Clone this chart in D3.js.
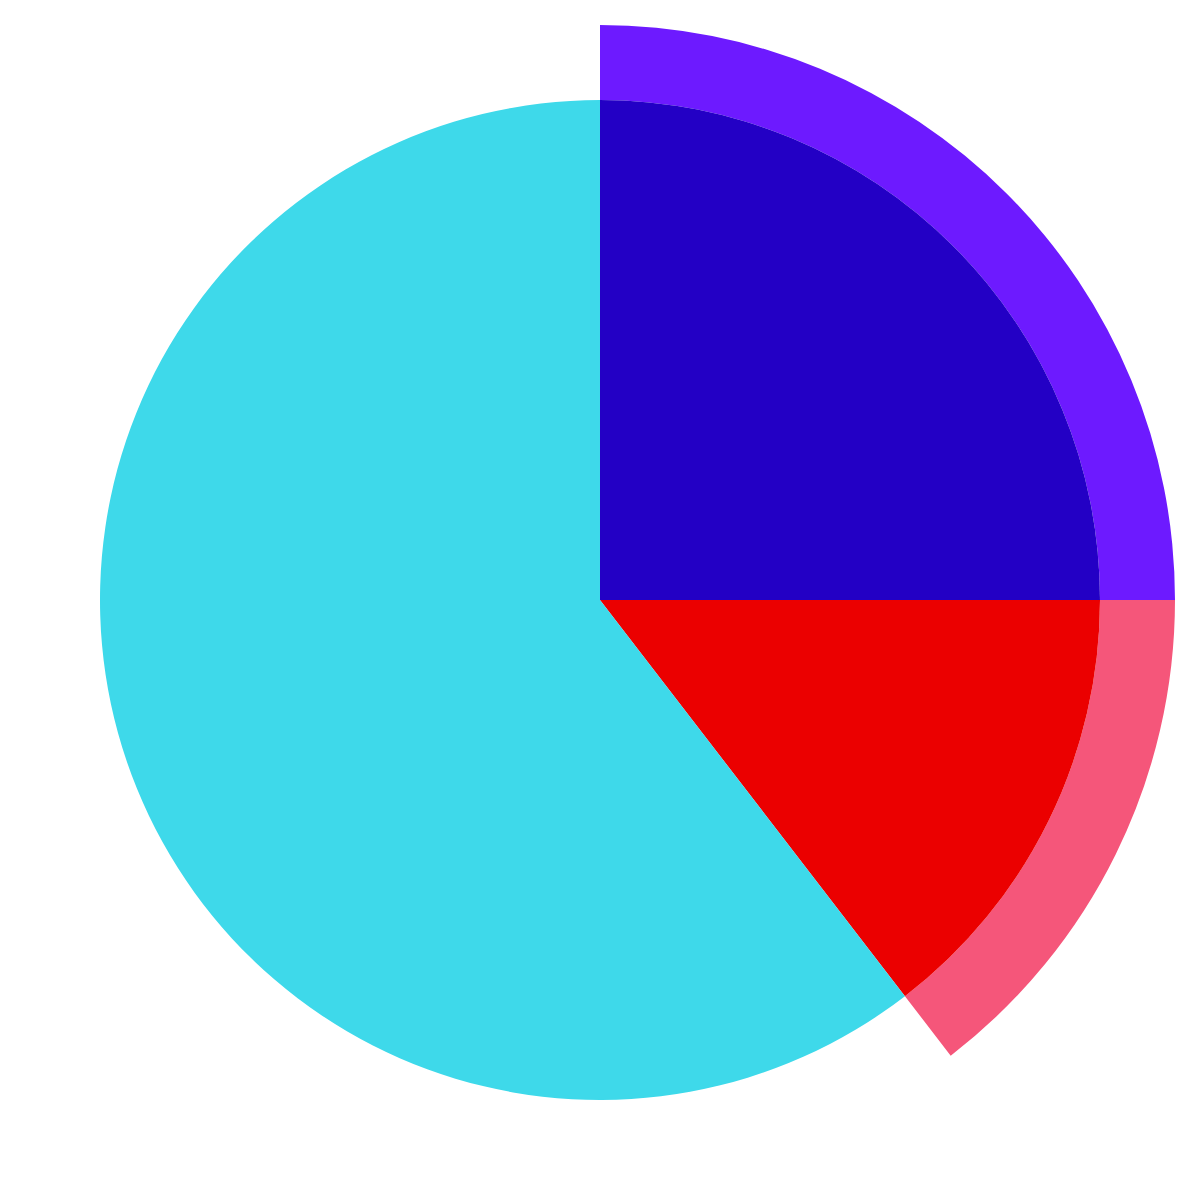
<!DOCTYPE html>
<html><head><meta charset="utf-8">
<script src="https://cdn.jsdelivr.net/npm/d3@7"></script>
<style>html,body{margin:0;padding:0;background:#fff;}</style>
</head><body>
<svg id="chart" width="1200" height="1200"></svg>
<script>
const categories = ["A", "B", "C"];
const values = [25, 14.56, 60.44];
const innerColors = ["#2300C5", "#EB0000", "#3ED9EA"];
const ringColors = ["#6D1AFF", "#F5567A", null];

const svg = d3.select("#chart");
const g = svg.append("g").attr("transform", "translate(600,600)");
const pie = d3.pie().sort(null).value(d => d.v);
const data = pie(categories.map((c, i) => ({c, v: values[i], i})));
const rScale = d3.scaleLinear().domain([0, 1]).range([0, 500]);
const arcInner = d3.arc().innerRadius(0).outerRadius(rScale(1));
const arcRing = d3.arc().innerRadius(rScale(1)).outerRadius(rScale(1.15));

g.selectAll("path.ring").data(data.filter(d => ringColors[d.data.i]))
  .join("path").attr("class", "ring")
  .attr("d", arcRing).attr("fill", d => ringColors[d.data.i]);
g.selectAll("path.slice").data(data)
  .join("path").attr("class", "slice")
  .attr("d", arcInner).attr("fill", d => innerColors[d.data.i]);
</script>
</body></html>
